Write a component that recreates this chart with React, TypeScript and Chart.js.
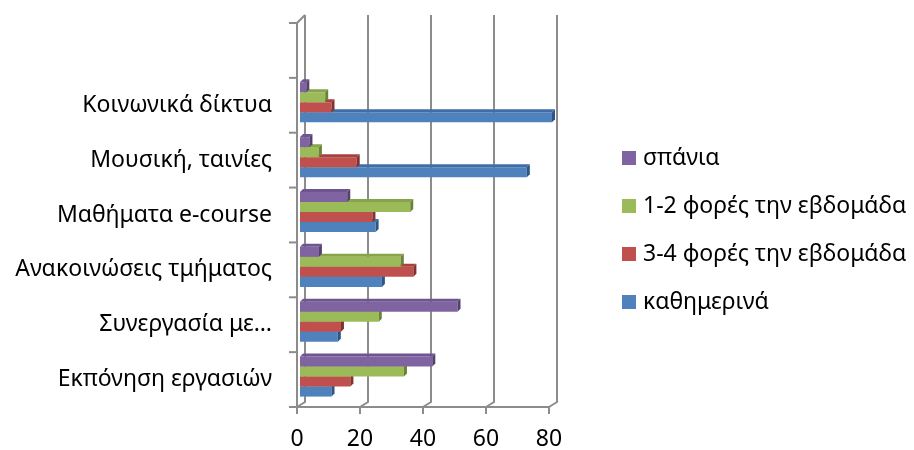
import React, { useEffect, useRef } from "react";
import { Chart, registerables } from "chart.js";

Chart.register(...registerables);

const categories = [
  "",
  "Κοινωνικά δίκτυα",
  "Μουσική, ταινίες",
  "Μαθήματα e-course",
  "Ανακοινώσεις τμήματος",
  "Συνεργασία με…",
  "Εκπόνηση εργασιών",
];
const seriesNames = ["σπάνια", "1-2 φορές την εβδομάδα", "3-4 φορές την εβδομάδα", "καθημερινά"];
const spania = [null, 2, 3, 15, 6, 50, 42];
const fores12 = [null, 8, 6, 35, 32, 25, 33];
const fores34 = [null, 10, 18, 23, 36, 13, 16];
const kathimerina = [null, 80, 72, 24, 26, 12, 10];
const xTickValues = [0, 20, 40, 60, 80];

const colors = ["#8064A2", "#9BBB59", "#C0504D", "#4F81BD"];
const topColors = ["#6f558f", "#86a44a", "#a8403d", "#3f6ea8"];
const sideColors = ["#55416e", "#6a8337", "#83302e", "#2f5585"];

const FONT = "'Noto Sans', 'DejaVu Sans', sans-serif";
const FONT_SIZE = 23;
const GRID = "#8c8c8c";
const DX = 8;

const depthPlugin = {
  id: "depth3d",
  beforeDatasetsDraw(chart: any) {
    const ctx = chart.ctx;
    const xs = chart.scales.x;
    const area = chart.chartArea;
    ctx.save();
    ctx.strokeStyle = GRID;
    ctx.lineWidth = 2;
    xTickValues.forEach((v) => {
      const px = xs.getPixelForValue(v);
      ctx.beginPath();
      ctx.moveTo(px + DX, area.top - 8);
      ctx.lineTo(px + DX, area.bottom - 5);
      ctx.lineTo(px, area.bottom);
      ctx.stroke();
    });
    const x0 = xs.getPixelForValue(0);
    ctx.beginPath();
    ctx.moveTo(x0 + DX, area.top - 8);
    ctx.lineTo(x0, area.top);
    ctx.lineTo(x0, area.bottom);
    ctx.stroke();
    const n = categories.length;
    const slot = (area.bottom - area.top) / n;
    for (let k = 0; k <= n; k++) {
      const y = area.top + k * slot;
      ctx.beginPath();
      ctx.moveTo(x0 - 8, y);
      ctx.lineTo(x0, y);
      ctx.stroke();
    }
    const x80 = xs.getPixelForValue(80);
    ctx.beginPath();
    ctx.moveTo(x0, area.bottom);
    ctx.lineTo(x80, area.bottom);
    ctx.stroke();
    xTickValues.forEach((v) => {
      const px = xs.getPixelForValue(v);
      ctx.beginPath();
      ctx.moveTo(px, area.bottom);
      ctx.lineTo(px, area.bottom + 7);
      ctx.stroke();
    });
    ctx.restore();
    ctx.save();
    ctx.translate(3, -3);
  },
  afterDatasetDraw(chart: any, args: any) {
    const ctx = chart.ctx;
    const i = args.index;
    const d = 3;
    args.meta.data.forEach((el: any) => {
      const p = el.getProps(["x", "y", "base", "height"], true);
      if (p.x == null || isNaN(p.x) || isNaN(p.y)) return;
      const left = Math.min(p.base, p.x);
      const right = Math.max(p.base, p.x);
      if (right - left < 0.5) return;
      const top = p.y - p.height / 2;
      const bottom = p.y + p.height / 2;
      ctx.fillStyle = topColors[i];
      ctx.beginPath();
      ctx.moveTo(left, top);
      ctx.lineTo(left + d, top - d);
      ctx.lineTo(right + d, top - d);
      ctx.lineTo(right, top);
      ctx.closePath();
      ctx.fill();
      ctx.fillStyle = sideColors[i];
      ctx.beginPath();
      ctx.moveTo(right, top);
      ctx.lineTo(right + d, top - d);
      ctx.lineTo(right + d, bottom - d);
      ctx.lineTo(right, bottom);
      ctx.closePath();
      ctx.fill();
    });
  },
  afterDatasetsDraw(chart: any) {
    chart.ctx.restore();
  },
  afterDraw(chart: any) {
    const ctx = chart.ctx;
    const area = chart.chartArea;
    const box = 14;
    const spacing = 48;
    const left = area.right + 73;
    const midY = (area.top + area.bottom) / 2 + 15;
    const n = chart.data.datasets.length;
    ctx.save();
    ctx.font = `${FONT_SIZE}px ${FONT}`;
    ctx.textBaseline = "middle";
    ctx.textAlign = "left";
    chart.data.datasets.forEach((ds: any, i: number) => {
      const cy = midY + (i - (n - 1) / 2) * spacing;
      ctx.fillStyle = ds.backgroundColor;
      ctx.fillRect(left, cy - box / 2, box, box);
      ctx.fillStyle = "#000";
      ctx.fillText(ds.label, left + box + 7, cy);
    });
    ctx.restore();
  },
};

export default function App() {
  const ref = useRef<HTMLCanvasElement>(null);
  useEffect(() => {
    if (!ref.current) return;
    const data = [spania, fores12, fores34, kathimerina];
    const chart = new Chart(ref.current, {
      type: "bar",
      data: {
        labels: categories,
        datasets: seriesNames.map((name, i) => ({
          label: name,
          data: data[i],
          backgroundColor: colors[i],
          borderWidth: 0,
          categoryPercentage: 0.73,
          barPercentage: 1,
          clip: false as any,
        })),
      },
      options: {
        indexAxis: "y",
        animation: false,
        responsive: false,
        layout: { padding: { top: 23, left: 0, right: 365, bottom: 0 } },
        scales: {
          x: {
            min: 0,
            max: 80,
            ticks: { stepSize: 20, font: { family: FONT, size: FONT_SIZE }, color: "#000", padding: 19 },
            grid: { display: false, drawTicks: false },
            border: { display: false },
            afterFit: (s: any) => {
              s.height = 43;
            },
          },
          y: {
            ticks: { font: { family: FONT, size: FONT_SIZE }, color: "#000", padding: 25 },
            grid: { display: false, drawTicks: false },
            border: { display: false },
            afterFit: (s: any) => {
              s.width = 297;
              s.paddingTop = 0;
              s.paddingBottom = 0;
            },
          },
        },
        plugins: {
          legend: { display: false },
          tooltip: { enabled: false },
        },
      } as any,
      plugins: [depthPlugin],
    });
    return () => chart.destroy();
  }, []);
  return (
    <div style={{ position: "fixed", left: 0, top: 0, width: 914, height: 450, background: "#fff" }}>
      <canvas ref={ref} width={914} height={450} style={{ display: "block" }} />
    </div>
  );
}
